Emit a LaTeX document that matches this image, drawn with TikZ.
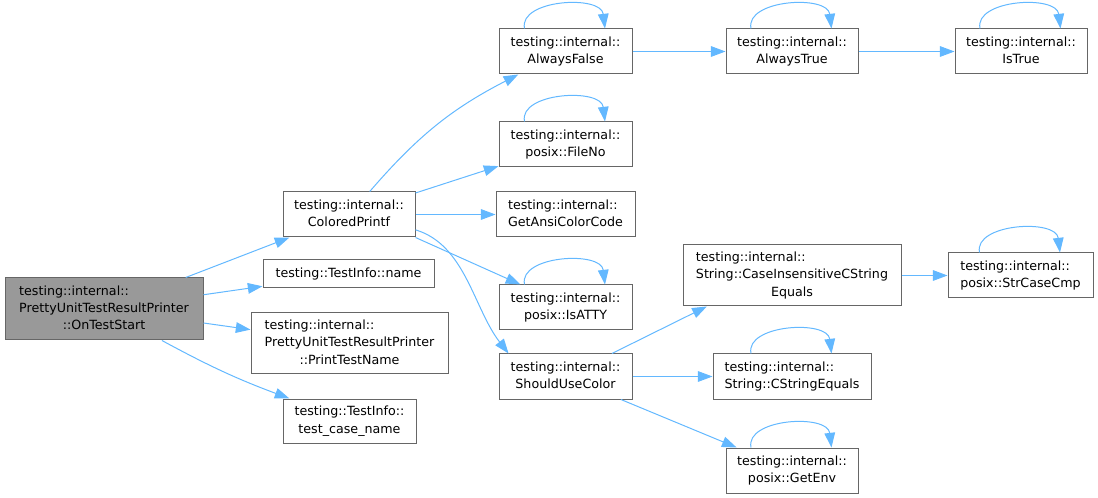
\documentclass[tikz,border=0pt]{standalone}
\usepackage{fontspec}
\setmainfont{DejaVu Sans}
\usetikzlibrary{arrows.meta}
\definecolor{edgeblue}{HTML}{63B8FF}
\definecolor{boxgray}{HTML}{666666}
\definecolor{curgray}{HTML}{999999}
\newcommand{\lbl}[2]{\begin{tabular}{@{}l@{}}#1\\\multicolumn{1}{@{}c@{}}{#2}\end{tabular}}
\newcommand{\selfloop}[1]{\draw[edge] ([xshift=-30.75pt]#1.north) .. controls +(-6,-29) and +(-4,-34) .. ([xshift=29.6pt]#1.north);}

\begin{document}
\begin{tikzpicture}[x=0.75pt,y=-0.75pt,
  fn/.style 2 args={draw=boxgray,line width=0.75pt,fill=white,inner sep=0pt,minimum width=#1*0.75pt,minimum height=#2*0.75pt,font=\fontsize{9.5}{13}\selectfont},
  edge/.style={draw=edgeblue,line width=0.75pt,-{Triangle[length=11pt,width=8pt]}}]
\useasboundingbox (0,0) rectangle (1098,498);
\node[fn={198}{62},fill=curgray] (start) at (104,309) {\lbl{testing::internal::\\PrettyUnitTestResultPrinter}{::OnTestStart}};
\node[fn={132}{45}] (printf) at (349,214.5) {\lbl{testing::internal::}{ColoredPrintf}};
\node[fn={171}{28}] (name) at (348.5,274) {testing::TestInfo::name};
\node[fn={197}{61}] (printname) at (349.5,343.5) {\lbl{testing::internal::\\PrettyUnitTestResultPrinter}{::PrintTestName}};
\node[fn={133}{44}] (casename) at (349.5,421) {\lbl{testing::TestInfo::}{test\_case\_name}};
\node[fn={133}{45}] (afalse) at (565.5,51.5) {\lbl{testing::internal::}{AlwaysFalse}};
\node[fn={132}{45}] (atrue) at (792,51.5) {\lbl{testing::internal::}{AlwaysTrue}};
\node[fn={132}{45}] (istrue) at (1021,51.5) {\lbl{testing::internal::}{IsTrue}};
\node[fn={133}{45}] (fileno) at (565.5,144.5) {\lbl{testing::internal::}{posix::FileNo}};
\node[fn={139}{45}] (ansi) at (565.5,214.5) {\lbl{testing::internal::}{GetAnsiColorCode}};
\node[fn={133}{45}] (isatty) at (565.5,307.5) {\lbl{testing::internal::}{posix::IsATTY}};
\node[fn={133}{45}] (usecolor) at (565.5,376.5) {\lbl{testing::internal::}{ShouldUseColor}};
\node[fn={218}{61}] (caseins) at (792,275.5) {\lbl{testing::internal::\\String::CaseInsensitiveCString}{Equals}};
\node[fn={145}{45}] (strcase) at (1020.5,275.5) {\lbl{testing::internal::}{posix::StrCaseCmp}};
\node[fn={158}{45}] (cstreq) at (792,376.5) {\lbl{testing::internal::}{String::CStringEquals}};
\node[fn={132}{45}] (getenv) at (792,470.5) {\lbl{testing::internal::}{posix::GetEnv}};

\draw[edge] (start) -- (printf);
\draw[edge] (start) -- (name);
\draw[edge] (start) -- (printname);
\draw[edge] (start) to[bend right=4] (casename);
\draw[edge] (printf) to[bend left=11] (afalse);
\draw[edge] (printf) -- (fileno);
\draw[edge] (printf) -- (ansi);
\draw[edge] (printf.south east) -- (isatty.153);
\draw[edge] (printf.-13) .. controls +(50,15) and +(-35,-45) .. (usecolor.158);
\draw[edge] (usecolor) -- (caseins.200);
\draw[edge] (usecolor) -- (cstreq);
\draw[edge] (usecolor) -- (getenv);
\draw[edge] (caseins) -- (strcase);
\draw[edge] (afalse) -- (atrue);
\draw[edge] (atrue) -- (istrue);
\foreach \n in {afalse,atrue,istrue,fileno,isatty,strcase,cstreq,getenv} {\selfloop{\n}}
\end{tikzpicture}
\end{document}
